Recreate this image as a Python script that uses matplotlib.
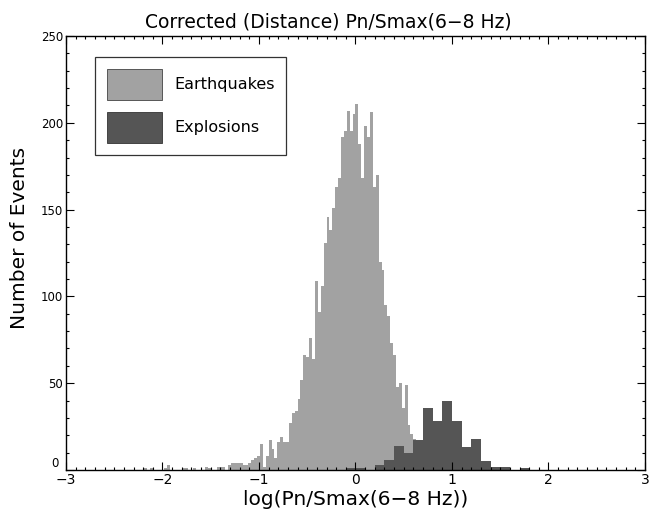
"""Histogram of corrected Pn/Smax(6-8 Hz): earthquakes vs explosions."""

import numpy as np
import matplotlib

matplotlib.use("Agg")
import matplotlib.pyplot as plt
from matplotlib.patches import Patch
from matplotlib.ticker import MultipleLocator, FuncFormatter

# earthquakes: bins of 0.03 starting at -2.19
eq_start = -2.19
eq_width = 0.03
eq_counts = [
    1, 0, 1, 0, 0, 0, 0, 1, 3, 0,
    0, 0, 0, 1, 1, 0, 0, 1, 0, 0,
    0, 2, 1, 0, 0, 2, 2, 2, 0, 3,
    4, 4, 4, 4, 3, 3, 4, 6, 7, 8,
    15, 2, 8, 17, 12, 7, 16, 19, 16, 16,
    27, 33, 34, 41, 52, 66, 65, 76, 64, 109,
    91, 106, 131, 146, 138, 151, 163, 168, 192, 195,
    207, 195, 205, 211, 188, 168, 198, 192, 206, 163,
    170, 120, 115, 95, 89, 73, 66, 48, 50, 36,
    49, 26, 21, 18, 16, 12, 10, 8, 6, 5,
    4, 3, 2, 2, 1,
]

# explosions: bins of 0.1 starting at -0.1
ex_start = -0.1
ex_width = 0.1
ex_counts = [1, 1, 0, 3, 6, 14, 10, 17, 36, 28, 40, 28, 13, 18, 5, 2, 2, 0, 1]

eq_color = "#a2a2a2"
ex_color = "#555555"

fig = plt.figure(figsize=(6.5, 5.13), dpi=100)
ax = fig.add_axes([0.1015, 0.0838, 0.8908, 0.846])

eq_left = eq_start + eq_width * np.arange(len(eq_counts))
ex_left = ex_start + ex_width * np.arange(len(ex_counts))
ax.bar(eq_left, eq_counts, width=eq_width, align="edge", color=eq_color, lw=0)
ax.bar(ex_left, ex_counts, width=ex_width, align="edge", color=ex_color, lw=0)

ax.set_xlim(-3, 3)
ax.set_ylim(0, 250)
ax.xaxis.set_major_locator(MultipleLocator(1))
ax.xaxis.set_minor_locator(MultipleLocator(0.1))
ax.yaxis.set_major_locator(MultipleLocator(50))
ax.yaxis.set_minor_locator(MultipleLocator(10))
# the 0 label is placed by hand so it sits above the -3 of the x axis
ax.yaxis.set_major_formatter(FuncFormatter(lambda v, p: "" if v == 0 else f"{v:g}"))
ax.tick_params(which="both", direction="in", top=True, right=True, width=0.8)
ax.tick_params(which="major", length=6)
ax.tick_params(which="minor", length=2.5)
ax.tick_params(axis="x", labelsize=10, pad=2)
ax.tick_params(axis="y", labelsize=8.5, pad=2)
for s in ax.spines.values():
    s.set_linewidth(1.0)
ax.text(-0.012, 0, "0", transform=ax.transAxes, ha="right", va="bottom",
        fontsize=8.5)

ax.set_title("Corrected (Distance) Pn/Smax(6\u22128 Hz)", fontsize=13.5, pad=6, x=0.4525)
ax.set_xlabel("log(Pn/Smax(6\u22128 Hz))", fontsize=14.5, labelpad=2)
ax.set_ylabel("Number of Events", fontsize=14.5)
ax.yaxis.set_label_coords(-0.063, 0.535)

handles = [
    Patch(facecolor=eq_color, edgecolor="#444444", lw=0.6, label="Earthquakes"),
    Patch(facecolor=ex_color, edgecolor="#333333", lw=0.6, label="Explosions"),
]
leg = ax.legend(handles=handles, loc="upper left", bbox_to_anchor=(0.05, 0.952),
                borderaxespad=0, fancybox=False, fontsize=11.5, handlelength=3.45,
                handleheight=2.6, labelspacing=0.75, handletextpad=0.75,
                borderpad=0.75)
leg.get_frame().set_edgecolor("black")
leg.get_frame().set_linewidth(0.9)

fig.savefig("out.png", dpi=100)
